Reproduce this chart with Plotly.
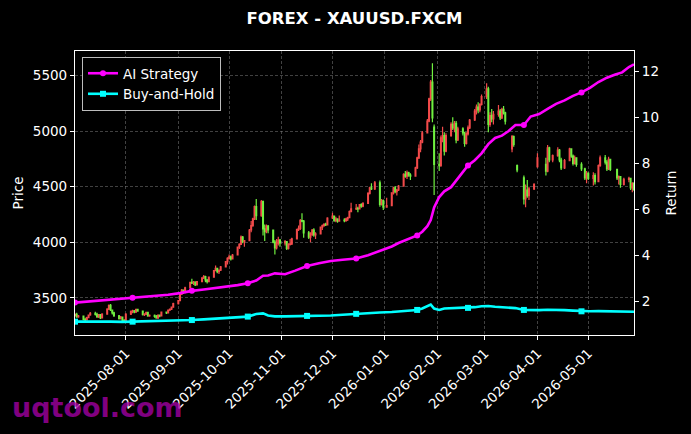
import pandas as pd
import plotly.graph_objects as go

# ---------------- data ----------------
gap_days = ["2025-12-25", "2026-01-01", "2026-03-16", "2026-03-19", "2026-03-23",
            "2026-03-31", "2026-04-02", "2026-04-03", "2026-04-09", "2026-04-16",
            "2026-04-28", "2026-05-06", "2026-05-15", "2026-05-21"]
candle_dates = [d.strftime("%Y-%m-%d") for d in pd.bdate_range("2025-07-02", "2026-05-28")
                if d.strftime("%Y-%m-%d") not in gap_days]

open_ = [
    3340, 3350, 3328,
    3335, 3305, 3300, 3322, 3345,
    3360, 3350, 3328, 3348, 3320,
    3352, 3398, 3432, 3390, 3365,
    3338, 3312, 3326, 3295, 3290,
    3352, 3378, 3382, 3370, 3395,
    3380, 3348, 3352, 3368, 3338,
    3342, 3332, 3318, 3345, 3338,
    3370, 3365, 3390, 3398, 3415,
    3448, 3475, 3532, 3570, 3548,
    3590, 3638, 3632, 3642, 3615,
    3645, 3680, 3690, 3660, 3645,
    3685, 3745, 3765, 3735, 3748,
    3778, 3825, 3855, 3868, 3850,
    3885, 3955, 3980, 4045, 4005,
    4015, 4110, 4150, 4210, 4320,
    4240, 4365, 4120, 4095, 4145,
    4110, 4000, 3950, 3990, 4020,
    3995, 4005, 3945, 3980, 3985,
    4030, 4115, 4125, 4195, 4190,
    4085, 4045, 4070, 4110, 4065,
    4075, 4135, 4150, 4160, 4155,
    4218, 4235, 4195, 4210, 4190,
    4200, 4195, 4210, 4222, 4275,
    4300, 4305, 4300, 4338, 4325,
    4350, 4440, 4490, 4480,
    4535, 4340, 4375, 4315,
    4330, 4445, 4490, 4455, 4470,
    4505, 4610, 4595, 4625, 4605,
    4595, 4670, 4760, 4840, 4900,
    4985, 5090, 5290, 5440, 5035,
    4700, 4690, 4940, 4960, 4820,
    4960, 5060, 5030, 5070, 4920,
    5020, 4985, 4890, 4975, 5030,
    5100, 5180, 5215, 5190, 5240,
    5310, 5380, 5060, 5140, 5110,
    5150, 5180, 5120, 5195, 5165,
    4840, 4950, 4690,
    4580, 4390, 4470, 4420,
    4480, 4680,
    4700, 4640, 4850, 4740,
    4780, 4830, 4740, 4670,
    4735, 4840, 4775, 4710, 4760,
    4700, 4660, 4580, 4620,
    4575, 4600, 4545, 4690,
    4760, 4720, 4660, 4745,
    4655, 4580, 4590, 4520,
    4565, 4575, 4490, 4530,
]
high = [
    3358, 3365, 3345,
    3340, 3320, 3330, 3350, 3372,
    3375, 3365, 3355, 3352, 3360,
    3405, 3440, 3445, 3395, 3375,
    3345, 3335, 3332, 3310, 3360,
    3385, 3392, 3390, 3402, 3400,
    3385, 3360, 3375, 3372, 3350,
    3350, 3345, 3350, 3350, 3375,
    3375, 3395, 3402, 3420, 3455,
    3480, 3540, 3580, 3575, 3600,
    3645, 3672, 3650, 3648, 3650,
    3685, 3705, 3698, 3670, 3690,
    3750, 3790, 3770, 3755, 3785,
    3830, 3865, 3890, 3880, 3895,
    3960, 3990, 4060, 4055, 4020,
    4120, 4190, 4220, 4330, 4390,
    4380, 4375, 4160, 4160, 4155,
    4115, 4020, 4030, 4050, 4030,
    4020, 4010, 3990, 4030, 4040,
    4120, 4150, 4210, 4260, 4200,
    4100, 4090, 4120, 4125, 4090,
    4140, 4160, 4170, 4175, 4225,
    4265, 4240, 4230, 4215, 4240,
    4215, 4220, 4230, 4285, 4355,
    4345, 4320, 4345, 4350, 4360,
    4450, 4500, 4530, 4550,
    4555, 4390, 4385, 4400,
    4450, 4500, 4505, 4480, 4515,
    4620, 4640, 4645, 4635, 4620,
    4680, 4770, 4880, 4920, 5000,
    5110, 5300, 5460, 5610, 5060,
    4800, 4960, 5040, 4990, 4980,
    5080, 5125, 5090, 5090, 5040,
    5035, 4995, 4990, 5050, 5110,
    5200, 5240, 5260, 5250, 5330,
    5430, 5400, 5170, 5200, 5180,
    5235, 5200, 5210, 5225, 5175,
    4965, 4960, 4700,
    4600, 4520, 4560, 4500,
    4530, 4800,
    4760, 4875, 4860, 4790,
    4855, 4840, 4760, 4750,
    4850, 4845, 4790, 4780, 4765,
    4720, 4670, 4640, 4630,
    4630, 4620, 4700, 4780,
    4785, 4740, 4770, 4750,
    4660, 4600, 4595, 4580,
    4590, 4580, 4540, 4540,
]
low = [
    3332, 3320, 3320,
    3298, 3288, 3295, 3315, 3338,
    3340, 3320, 3318, 3310, 3315,
    3348, 3390, 3380, 3350, 3330,
    3305, 3305, 3290, 3280, 3285,
    3345, 3360, 3360, 3365, 3375,
    3340, 3335, 3345, 3330, 3330,
    3320, 3312, 3310, 3325, 3332,
    3355, 3360, 3380, 3390, 3410,
    3440, 3470, 3525, 3535, 3540,
    3585, 3625, 3615, 3605, 3610,
    3640, 3670, 3640, 3628, 3640,
    3680, 3740, 3720, 3715, 3740,
    3772, 3800, 3845, 3835, 3845,
    3880, 3940, 3975, 3990, 3960,
    4010, 4090, 4140, 4200, 4200,
    4230, 4060, 4010, 4080, 4080,
    3990, 3890, 3935, 3970, 3960,
    3970, 3930, 3935, 3970, 3975,
    4025, 4100, 4110, 4180, 4040,
    4030, 4000, 4055, 4050, 4030,
    4070, 4110, 4140, 4145, 4150,
    4210, 4185, 4180, 4175, 4185,
    4180, 4185, 4190, 4215, 4270,
    4290, 4270, 4295, 4310, 4315,
    4345, 4430, 4470, 4470,
    4320, 4330, 4290, 4310,
    4325, 4430, 4440, 4420, 4460,
    4500, 4580, 4570, 4590, 4560,
    4590, 4660, 4750, 4810, 4890,
    4980, 5080, 5270, 5080, 4425,
    4640, 4680, 4900, 4780, 4810,
    4950, 5010, 4990, 4890, 4910,
    4960, 4860, 4880, 4960, 5020,
    5090, 5150, 5160, 5170, 5230,
    5290, 4990, 5040, 5080, 5060,
    5130, 5100, 5110, 5150, 5060,
    4810, 4860, 4630,
    4340, 4315, 4400, 4380,
    4470, 4670,
    4600, 4630, 4720, 4720,
    4770, 4720, 4650, 4660,
    4730, 4760, 4690, 4700, 4680,
    4640, 4560, 4530, 4560,
    4510, 4520, 4540, 4680,
    4700, 4640, 4650, 4640,
    4560, 4520, 4490, 4510,
    4540, 4470, 4450, 4460,
]
close = [
    3350, 3328, 3338,
    3305, 3300, 3322, 3345, 3360,
    3350, 3328, 3348, 3320, 3352,
    3398, 3432, 3390, 3365, 3338,
    3312, 3326, 3295, 3290, 3352,
    3378, 3382, 3370, 3395, 3380,
    3348, 3352, 3368, 3338, 3342,
    3332, 3318, 3345, 3338, 3370,
    3365, 3390, 3398, 3415, 3448,
    3475, 3532, 3570, 3548, 3590,
    3638, 3632, 3642, 3615, 3645,
    3680, 3690, 3660, 3645, 3685,
    3745, 3765, 3735, 3748, 3778,
    3825, 3855, 3868, 3850, 3885,
    3955, 3980, 4045, 4005, 4015,
    4110, 4150, 4210, 4320, 4240,
    4365, 4120, 4095, 4145, 4110,
    4000, 3950, 3990, 4020, 3995,
    4005, 3945, 3980, 3985, 4030,
    4115, 4125, 4195, 4190, 4085,
    4045, 4070, 4110, 4065, 4075,
    4135, 4150, 4160, 4155, 4218,
    4235, 4195, 4210, 4190, 4200,
    4195, 4210, 4222, 4275, 4300,
    4305, 4300, 4338, 4325, 4350,
    4440, 4490, 4480, 4535,
    4340, 4375, 4315, 4330,
    4445, 4490, 4455, 4470, 4505,
    4610, 4595, 4625, 4605, 4595,
    4670, 4760, 4840, 4900, 4985,
    5090, 5290, 5440, 5120, 4700,
    4690, 4940, 4960, 4820, 4960,
    5060, 5030, 5070, 4920, 5020,
    4985, 4890, 4975, 5030, 5100,
    5180, 5215, 5190, 5240, 5310,
    5380, 5060, 5140, 5110, 5150,
    5180, 5120, 5195, 5165, 5090,
    4950, 4880, 4650,
    4390, 4470, 4420, 4480,
    4520, 4760,
    4640, 4850, 4740, 4780,
    4830, 4740, 4670, 4735,
    4840, 4775, 4710, 4760, 4700,
    4660, 4580, 4620, 4575,
    4600, 4545, 4690, 4760,
    4720, 4660, 4745, 4655,
    4580, 4590, 4520, 4565,
    4575, 4490, 4530, 4475,
]

line_dates = [
    "2025-07-02", "2025-07-09", "2025-07-16", "2025-07-23", "2025-07-30",
    "2025-08-05", "2025-08-12", "2025-08-19", "2025-08-26", "2025-09-02",
    "2025-09-09", "2025-09-16", "2025-09-23", "2025-09-30", "2025-10-06",
    "2025-10-12", "2025-10-17", "2025-10-21", "2025-10-24", "2025-10-28",
    "2025-11-03", "2025-11-09", "2025-11-16", "2025-11-23", "2025-11-30",
    "2025-12-07", "2025-12-15", "2025-12-22", "2025-12-29", "2026-01-05",
    "2026-01-09", "2026-01-13", "2026-01-17", "2026-01-20", "2026-01-23",
    "2026-01-26", "2026-01-28", "2026-01-30", "2026-02-02", "2026-02-05",
    "2026-02-09", "2026-02-13", "2026-02-16", "2026-02-19", "2026-02-23",
    "2026-02-27", "2026-03-03", "2026-03-07", "2026-03-11", "2026-03-15",
    "2026-03-19", "2026-03-24", "2026-03-28", "2026-04-02", "2026-04-07",
    "2026-04-12", "2026-04-17", "2026-04-22", "2026-04-27", "2026-05-02",
    "2026-05-07", "2026-05-12", "2026-05-17", "2026-05-21", "2026-05-25",
    "2026-05-28",
]
ai_return = [
    1.96, 2.00, 2.04, 2.09, 2.13,
    2.17, 2.20, 2.25, 2.30, 2.37,
    2.47, 2.53, 2.59, 2.66, 2.72,
    2.80, 2.92, 3.13, 3.14, 3.23,
    3.19, 3.35, 3.55, 3.67, 3.77,
    3.82, 3.88, 4.02, 4.20, 4.40,
    4.55, 4.68, 4.80, 4.88, 5.04,
    5.28, 5.55, 6.10, 6.55, 6.80,
    6.98, 7.35, 7.65, 7.92, 8.15,
    8.45, 8.85, 9.12, 9.22, 9.42,
    9.68, 9.68, 10.05, 10.16, 10.38,
    10.60, 10.75, 10.95, 11.10, 11.30,
    11.55, 11.74, 11.88, 11.97, 12.20,
    12.32,
]
bh_return = [
    1.13, 1.14, 1.14, 1.13, 1.12,
    1.13, 1.14, 1.14, 1.16, 1.19,
    1.20, 1.23, 1.26, 1.29, 1.32,
    1.35, 1.46, 1.49, 1.40, 1.36,
    1.36, 1.37, 1.38, 1.37, 1.40,
    1.43, 1.47, 1.52, 1.53, 1.55,
    1.58, 1.60, 1.62, 1.64, 1.70,
    1.80, 1.87, 1.70, 1.64, 1.70,
    1.71, 1.72, 1.74, 1.73, 1.76,
    1.80, 1.81, 1.78, 1.77, 1.76,
    1.72, 1.64, 1.63, 1.63, 1.65,
    1.65, 1.63, 1.61, 1.58, 1.58,
    1.59, 1.58, 1.57, 1.57, 1.57,
    1.56,
]
marker_dates = ["2025-07-02", "2025-08-05", "2025-09-09", "2025-10-12", "2025-11-16",
                "2025-12-15", "2026-01-20", "2026-02-19", "2026-03-24", "2026-04-27"]

tick_dates = ["2025-08-01", "2025-09-01", "2025-10-01", "2025-11-01", "2025-12-01",
              "2026-01-01", "2026-02-01", "2026-03-01", "2026-04-01", "2026-05-01"]
price_ticks = [3500, 4000, 4500, 5000, 5500]
return_ticks = [2, 4, 6, 8, 10, 12]

n = len(candle_dates)
assert len(open_) == n and len(high) == n and len(low) == n and len(close) == n, \
    (n, len(open_), len(high), len(low), len(close))
assert len(line_dates) == len(ai_return) == len(bh_return)

# ---------------- figure ----------------
FONT = "DejaVu Sans"
MAGENTA = "#FF00FF"
CYAN = "#00FFFF"
UP = "#F24A4A"      # rising candles red
DOWN = "#70F040"    # falling candles green
GRID = "rgba(130,130,130,0.5)"


def marker_colors(color):
    return [color if d in marker_dates else "rgba(0,0,0,0)" for d in line_dates]


fig = go.Figure()
fig.add_trace(go.Candlestick(
    x=candle_dates, open=open_, high=high, low=low, close=close,
    increasing=dict(line=dict(color=UP, width=1.2), fillcolor=UP),
    decreasing=dict(line=dict(color=DOWN, width=1.2), fillcolor=DOWN),
    showlegend=False, yaxis="y",
))
fig.add_trace(go.Scatter(
    x=line_dates, y=ai_return, name="AI Strategy", mode="lines+markers",
    line=dict(color=MAGENTA, width=2.6),
    marker=dict(symbol="circle", size=6, color=marker_colors(MAGENTA),
                line=dict(width=0)),
    yaxis="y2",
))
fig.add_trace(go.Scatter(
    x=line_dates, y=bh_return, name="Buy-and-Hold", mode="lines+markers",
    line=dict(color=CYAN, width=2.6),
    marker=dict(symbol="square", size=6, color=marker_colors(CYAN),
                line=dict(width=0)),
    yaxis="y2",
))

axis_common = dict(
    showline=True, linecolor="white", linewidth=1.2,
    ticks="outside", tickcolor="white", ticklen=4, tickwidth=1,
    tickfont=dict(family=FONT, size=13.5, color="white"),
    zeroline=False,
)

fig.update_layout(
    width=691, height=434,
    paper_bgcolor="black", plot_bgcolor="black",
    margin=dict(l=75, r=57, t=51, b=99),
    font=dict(family=FONT, color="white", size=13.5),
    title=dict(text="FOREX - XAUUSD.FXCM", x=0.5, xref="paper", xanchor="center",
               y=1 - 18 / 434, yref="container", yanchor="middle",
               font=dict(family=FONT, size=16.5, color="white", weight="bold")),
    xaxis=dict(
        type="date", range=["2025-07-02", "2026-05-28"],
        tickvals=tick_dates, ticktext=tick_dates, tickangle=-45,
        showgrid=True, gridcolor=GRID, griddash="3px,2px", gridwidth=0.5,
        mirror=True, rangeslider=dict(visible=False),
        **axis_common,
    ),
    yaxis=dict(
        range=[3165, 5721], tickvals=price_ticks,
        showgrid=True, gridcolor=GRID, griddash="3px,2px", gridwidth=0.5,
        mirror=True,
        title=dict(text="Price", standoff=6, font=dict(family=FONT, size=13.5, color="white")),
        **axis_common,
    ),
    yaxis2=dict(
        overlaying="y", side="right", range=[0.55, 12.9], tickvals=return_ticks,
        showgrid=False,
        title=dict(text="Return", standoff=8, font=dict(family=FONT, size=13.5, color="white")),
        **axis_common,
    ),
    legend=dict(
        x=0.0125, y=0.979, xanchor="left", yanchor="top",
        bgcolor="black", bordercolor="rgba(210,210,210,0.9)", borderwidth=1,
        font=dict(family=FONT, size=13.5, color="white"),
        tracegroupgap=2,
    ),
    annotations=[dict(
        text="uqtool.com", xref="paper", yref="paper",
        x=(10 - 75) / 559, y=(335 - 407) / 284, xanchor="left", yanchor="middle",
        showarrow=False,
        font=dict(family=FONT, size=27, color="rgba(165,0,165,0.78)", weight="bold"),
    )],
)

fig.write_html(
    "out.html",
    config={"displayModeBar": False},
    post_script="document.body.style.margin='0';document.body.style.padding='0';",
)
